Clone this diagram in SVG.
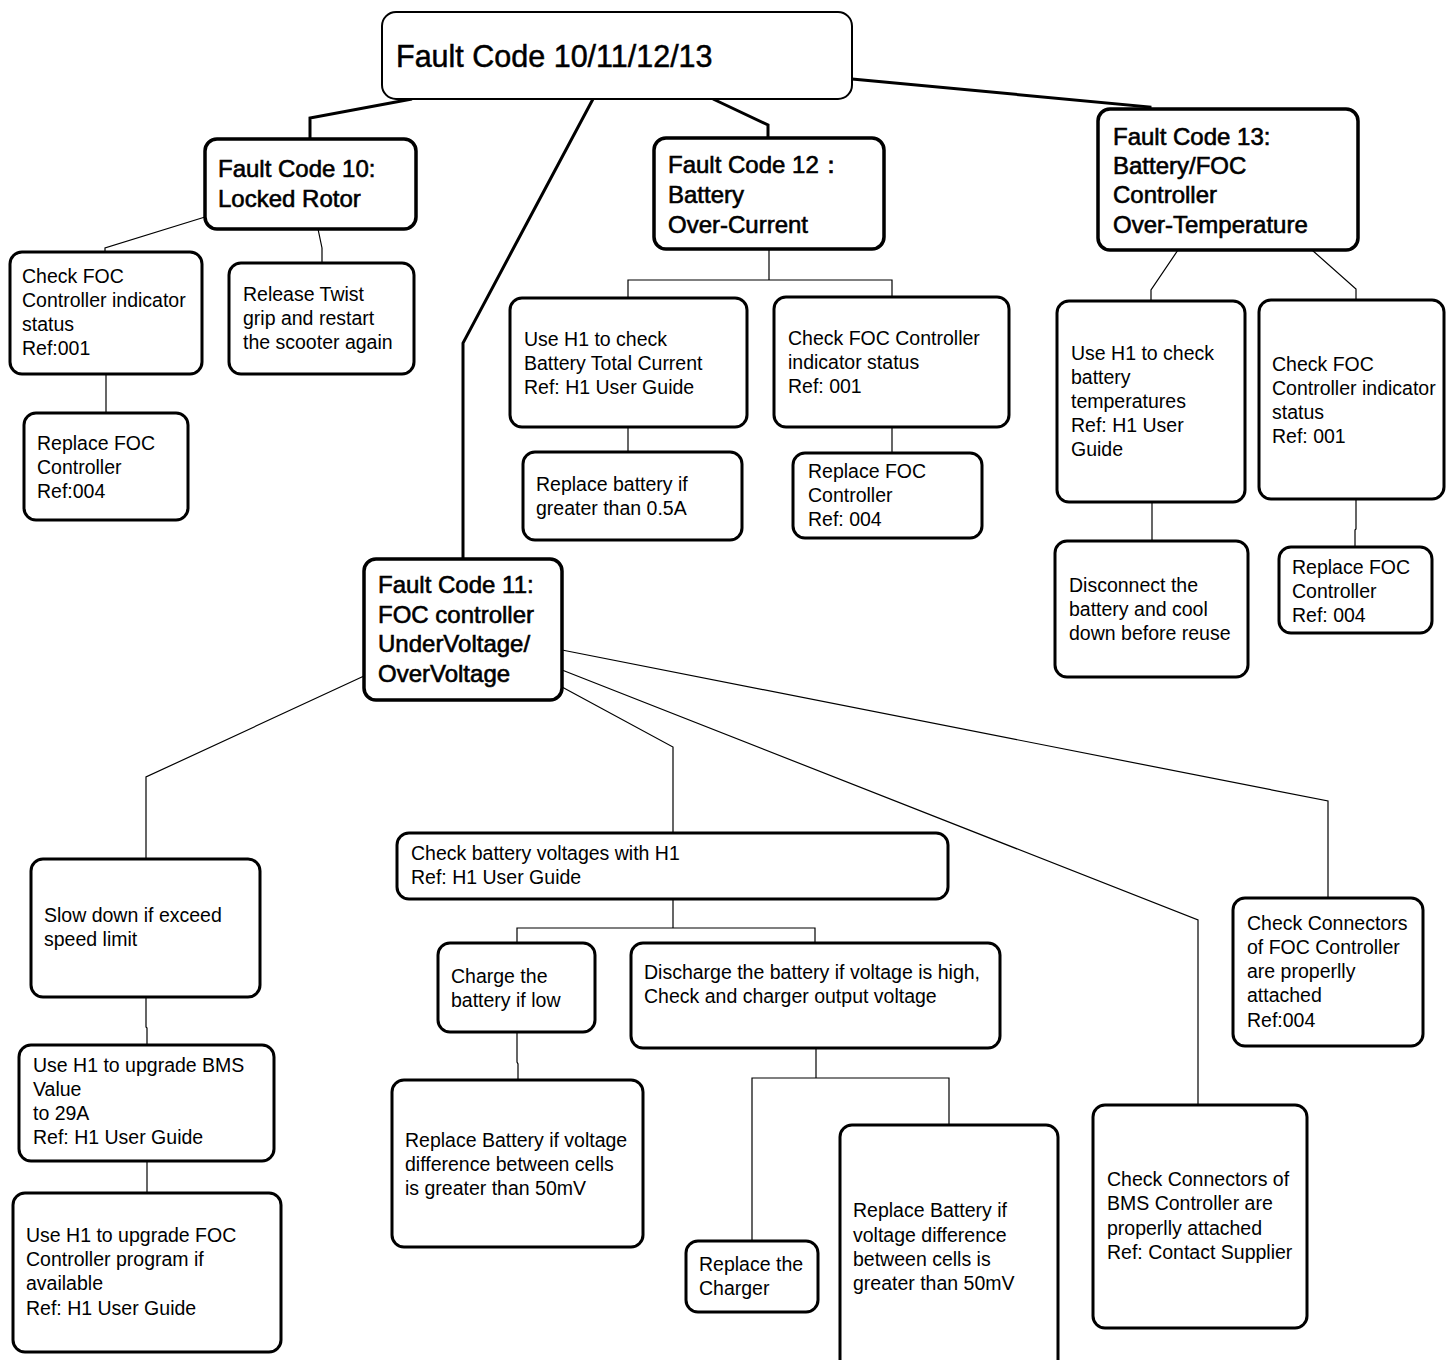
<svg xmlns="http://www.w3.org/2000/svg" width="1447" height="1360" viewBox="0 0 1447 1360">
<style>
.bx{fill:#fff;stroke:#000;stroke-width:3}
.hb{stroke-width:3.5}
.rt{stroke-width:2}
text{font-family:"Liberation Sans",Arial,sans-serif;font-size:19.5px;fill:#000}
.h{font-size:24px;stroke:#000;stroke-width:0.6}
.r{font-size:30.5px;stroke:#000;stroke-width:0.5}
.c{fill:none;stroke:#000;stroke-width:1.2}
.ck{stroke-width:3}
</style>
<rect width="1447" height="1360" fill="#fff"/>
<g id="connectors">
<polyline class="c ck" points="412,99 310,118 310,139"/>
<polyline class="c ck" points="593,99 463,343 463,559"/>
<polyline class="c ck" points="713,99 768,125 768,138"/>
<polyline class="c ck" points="852,79 1150,107 1150,109"/>
<polyline class="c" points="205,217 105,248 105,252"/>
<polyline class="c" points="318,229 322,248 322,263"/>
<polyline class="c" points="106,374 106,413"/>
<polyline class="c" points="769,249 769,280"/>
<polyline class="c" points="628,298 628,280 892,280 892,297"/>
<polyline class="c" points="628,427 628,452"/>
<polyline class="c" points="892,427 892,453"/>
<polyline class="c" points="1178,250 1151,290 1151,301"/>
<polyline class="c" points="1312,250 1356,289 1356,300"/>
<polyline class="c" points="1152,502 1152,541"/>
<polyline class="c" points="1356,499 1356,529 1355,530 1355,547"/>
<polyline class="c" points="364,676 146,777 146,859"/>
<polyline class="c" points="562,687 673,747 673,833"/>
<polyline class="c" points="562,670 1198,920 1198,1105"/>
<polyline class="c" points="562,650 1328,801 1328,898"/>
<polyline class="c" points="146,997 146,1027 147,1028 147,1045"/>
<polyline class="c" points="147,1161 147,1193"/>
<polyline class="c" points="673,899 673,928"/>
<polyline class="c" points="517,943 517,928 815,928 815,943"/>
<polyline class="c" points="517,1032 517,1062 518,1064 518,1080"/>
<polyline class="c" points="816,1048 816,1078"/>
<polyline class="c" points="752,1241 752,1078 949,1078 949,1125"/>
</g>
<g id="root">
<rect class="bx rt" x="382" y="12" width="470" height="87" rx="14"/>
<text class="r" x="396" y="67">Fault Code 10/11/12/13</text>
</g>
<g id="fc10">
<rect class="bx hb" x="205" y="139" width="211" height="90" rx="12"/>
<text class="h" x="218" y="177">Fault Code 10:</text>
<text class="h" x="218" y="207">Locked Rotor</text>
</g>
<g id="fc12">
<rect class="bx hb" x="654" y="138" width="230" height="111" rx="12"/>
<text class="h" x="668" y="173">Fault Code 12：</text>
<text class="h" x="668" y="203">Battery</text>
<text class="h" x="668" y="233">Over-Current</text>
</g>
<g id="fc13">
<rect class="bx hb" x="1098" y="109" width="260" height="141" rx="12"/>
<text class="h" x="1113" y="145">Fault Code 13:</text>
<text class="h" x="1113" y="174">Battery/FOC</text>
<text class="h" x="1113" y="203">Controller</text>
<text class="h" x="1113" y="233">Over-Temperature</text>
</g>
<g id="fc11">
<rect class="bx hb" x="364" y="559" width="198" height="141" rx="12"/>
<text class="h" x="378" y="593">Fault Code 11:</text>
<text class="h" x="378" y="623">FOC controller</text>
<text class="h" x="378" y="652">UnderVoltage/</text>
<text class="h" x="378" y="682">OverVoltage</text>
</g>
<g id="chk-foc-10">
<rect class="bx" x="10" y="252" width="192" height="122" rx="12"/>
<text x="22" y="283">Check FOC</text>
<text x="22" y="307">Controller indicator</text>
<text x="22" y="331">status</text>
<text x="22" y="355">Ref:001</text>
</g>
<g id="release">
<rect class="bx" x="229" y="263" width="185" height="111" rx="12"/>
<text x="243" y="301">Release Twist</text>
<text x="243" y="325">grip and restart</text>
<text x="243" y="349">the scooter again</text>
</g>
<g id="repl-foc-10">
<rect class="bx" x="24" y="413" width="164" height="107" rx="12"/>
<text x="37" y="450">Replace FOC</text>
<text x="37" y="474">Controller</text>
<text x="37" y="498">Ref:004</text>
</g>
<g id="h1-current">
<rect class="bx" x="510" y="298" width="237" height="129" rx="12"/>
<text x="524" y="346">Use H1 to check</text>
<text x="524" y="370">Battery Total Current</text>
<text x="524" y="394">Ref: H1 User Guide</text>
</g>
<g id="chk-foc-12">
<rect class="bx" x="774" y="297" width="235" height="130" rx="12"/>
<text x="788" y="345">Check FOC Controller</text>
<text x="788" y="369">indicator status</text>
<text x="788" y="393">Ref: 001</text>
</g>
<g id="repl-bat-12">
<rect class="bx" x="523" y="452" width="219" height="88" rx="12"/>
<text x="536" y="491">Replace battery if</text>
<text x="536" y="515">greater than 0.5A</text>
</g>
<g id="repl-foc-12">
<rect class="bx" x="793" y="453" width="189" height="85" rx="12"/>
<text x="808" y="478">Replace FOC</text>
<text x="808" y="502">Controller</text>
<text x="808" y="526">Ref: 004</text>
</g>
<g id="h1-temp">
<rect class="bx" x="1057" y="301" width="188" height="201" rx="12"/>
<text x="1071" y="360">Use H1 to check</text>
<text x="1071" y="384">battery</text>
<text x="1071" y="408">temperatures</text>
<text x="1071" y="432">Ref: H1 User</text>
<text x="1071" y="456">Guide</text>
</g>
<g id="chk-foc-13">
<rect class="bx" x="1259" y="300" width="185" height="199" rx="12"/>
<text x="1272" y="371">Check FOC</text>
<text x="1272" y="395">Controller indicator</text>
<text x="1272" y="419">status</text>
<text x="1272" y="443">Ref: 001</text>
</g>
<g id="disconnect">
<rect class="bx" x="1055" y="541" width="193" height="136" rx="12"/>
<text x="1069" y="592">Disconnect the</text>
<text x="1069" y="616">battery and cool</text>
<text x="1069" y="640">down before reuse</text>
</g>
<g id="repl-foc-13">
<rect class="bx" x="1279" y="547" width="153" height="86" rx="12"/>
<text x="1292" y="574">Replace FOC</text>
<text x="1292" y="598">Controller</text>
<text x="1292" y="622">Ref: 004</text>
</g>
<g id="slow-down">
<rect class="bx" x="31" y="859" width="229" height="138" rx="12"/>
<text x="44" y="922">Slow down if exceed</text>
<text x="44" y="946">speed limit</text>
</g>
<g id="upgrade-bms">
<rect class="bx" x="19" y="1045" width="255" height="116" rx="12"/>
<text x="33" y="1072">Use H1 to upgrade BMS</text>
<text x="33" y="1096">Value</text>
<text x="33" y="1120">to 29A</text>
<text x="33" y="1144">Ref: H1 User Guide</text>
</g>
<g id="upgrade-foc">
<rect class="bx" x="13" y="1193" width="268" height="159" rx="12"/>
<text x="26" y="1242">Use H1 to upgrade FOC</text>
<text x="26" y="1266">Controller program if</text>
<text x="26" y="1290">available</text>
<text x="26" y="1315">Ref: H1 User Guide</text>
</g>
<g id="chk-voltages">
<rect class="bx" x="397" y="833" width="551" height="66" rx="12"/>
<text x="411" y="860">Check battery voltages with H1</text>
<text x="411" y="884">Ref: H1 User Guide</text>
</g>
<g id="charge">
<rect class="bx" x="438" y="943" width="157" height="89" rx="12"/>
<text x="451" y="983">Charge the</text>
<text x="451" y="1007">battery if low</text>
</g>
<g id="discharge">
<rect class="bx" x="631" y="943" width="369" height="105" rx="12"/>
<text x="644" y="979">Discharge the battery if voltage is high,</text>
<text x="644" y="1003">Check and charger output voltage</text>
</g>
<g id="repl-bat-left">
<rect class="bx" x="392" y="1080" width="251" height="167" rx="12"/>
<text x="405" y="1147">Replace Battery if voltage</text>
<text x="405" y="1171">difference between cells</text>
<text x="405" y="1195">is greater than 50mV</text>
</g>
<g id="repl-charger">
<rect class="bx" x="686" y="1241" width="132" height="71" rx="12"/>
<text x="699" y="1271">Replace the</text>
<text x="699" y="1295">Charger</text>
</g>
<g id="repl-bat-right">
<rect class="bx" x="840" y="1125" width="218" height="250" rx="12"/>
<text x="853" y="1217">Replace Battery if</text>
<text x="853" y="1242">voltage difference</text>
<text x="853" y="1266">between cells is</text>
<text x="853" y="1290">greater than 50mV</text>
</g>
<g id="conn-foc">
<rect class="bx" x="1233" y="898" width="190" height="148" rx="12"/>
<text x="1247" y="930">Check Connectors</text>
<text x="1247" y="954">of FOC Controller</text>
<text x="1247" y="978">are properlly</text>
<text x="1247" y="1002">attached</text>
<text x="1247" y="1027">Ref:004</text>
</g>
<g id="conn-bms">
<rect class="bx" x="1093" y="1105" width="214" height="223" rx="12"/>
<text x="1107" y="1186">Check Connectors of</text>
<text x="1107" y="1210">BMS Controller are</text>
<text x="1107" y="1235">properlly attached</text>
<text x="1107" y="1259">Ref: Contact Supplier</text>
</g>
</svg>
